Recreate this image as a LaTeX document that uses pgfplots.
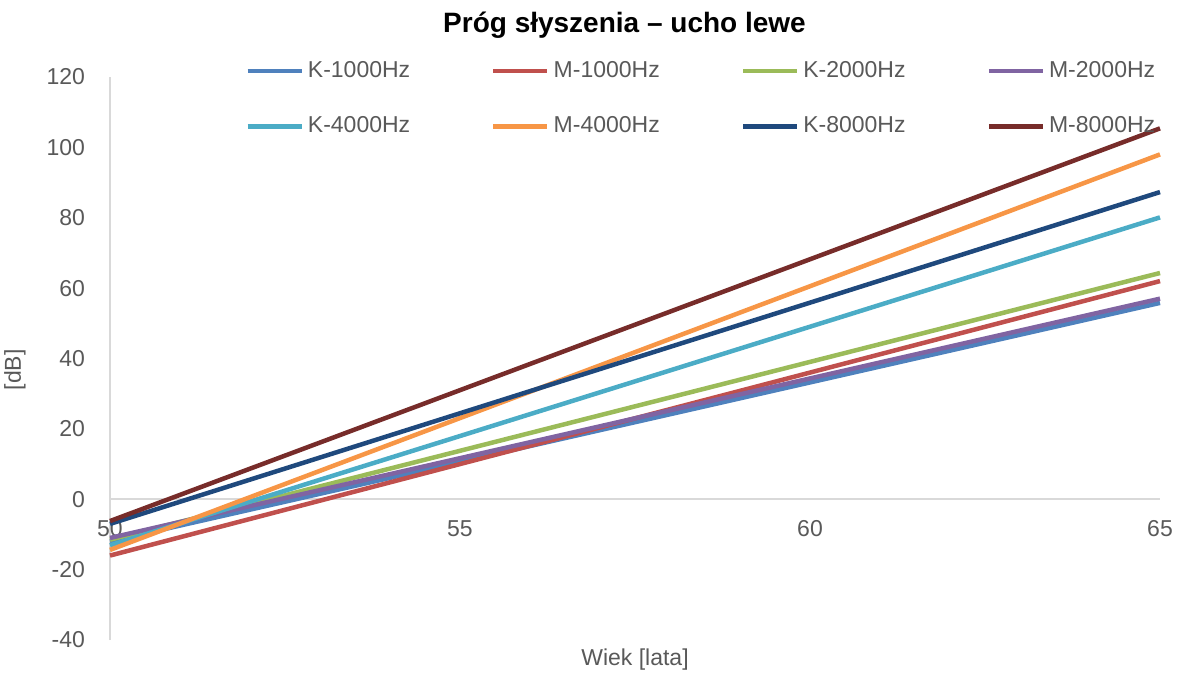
\documentclass[border=0pt]{standalone}
\usepackage{pgfplots}
\pgfplotsset{compat=1.18}
\usepackage{fontspec}
\setmainfont{Liberation Sans}
\definecolor{cA}{HTML}{4F81BD}
\definecolor{cB}{HTML}{C0504D}
\definecolor{cC}{HTML}{9BBB59}
\definecolor{cD}{HTML}{8064A2}
\definecolor{cE}{HTML}{4BACC6}
\definecolor{cF}{HTML}{F79646}
\definecolor{cG}{HTML}{1F497D}
\definecolor{cH}{HTML}{772C2A}
\definecolor{txt}{HTML}{595959}
\definecolor{axl}{HTML}{D9D9D9}
\begin{document}
\begin{tikzpicture}
\begin{axis}[
  scale only axis,
  width=525pt, height=281.5pt,
  xmin=50, xmax=65, ymin=-40, ymax=120,
  xtick={50,55,60,65}, ytick={-40,-20,0,20,40,60,80,100,120},
  axis x line=middle, axis y line=left,
  hide obscured x ticks=false,
  axis line style={axl, line width=1pt, -},
  major tick length=0pt,
  /pgf/number format/assume math mode=true,
  ticklabel style={font=\fontsize{11.5}{13}\selectfont, text=txt},
  xticklabel style={yshift=-7pt},
  yticklabel style={xshift=-9pt},
  every axis x label/.style={at={(rel axis cs:0.5,0)}, anchor=center, yshift=-10pt},
  every axis y label/.style={at={(rel axis cs:-0.0905,0.48)}, anchor=center, rotate=90},
  xlabel={Wiek [lata]}, ylabel={[dB]},
  label style={font=\fontsize{11.5}{13}\selectfont, text=txt},
  title={Próg słyszenia – ucho lewe},
  every axis title/.style={at={(rel axis cs:0.49,1)}, anchor=center, yshift=26pt, font=\fontsize{14}{16}\bfseries\selectfont},
  clip=false,
  legend columns=4,
  legend style={at={(rel axis cs:0.1286,1.035)}, anchor=north west, draw=none, fill=none,
     font=\fontsize{11.5}{13}\selectfont, text=txt,
     /tikz/every even column/.append style={column sep=38.5pt},
     row sep=14pt, inner sep=0pt},
  legend image code/.code={\draw[#1] (0pt,0pt) -- (27pt,0pt);},
  legend cell align=left,
  every axis plot/.append style={line width=2.25pt},
]
\addplot[cA] coordinates {(50,-12) (65,55.8)};
\addlegendentry{K-1000Hz}
\addplot[cB] coordinates {(50,-16) (65,62.0)};
\addlegendentry{M-1000Hz}
\addplot[cC] coordinates {(50,-11.5) (65,64.3)};
\addlegendentry{K-2000Hz}
\addplot[cD] coordinates {(50,-11) (65,57.0)};
\addlegendentry{M-2000Hz}
\addplot[cE] coordinates {(50,-13.1) (65,80.1)};
\addlegendentry{K-4000Hz}
\addplot[cF] coordinates {(50,-14.4) (65,98.0)};
\addlegendentry{M-4000Hz}
\addplot[cG] coordinates {(50,-7) (65,87.3)};
\addlegendentry{K-8000Hz}
\addplot[cH] coordinates {(50,-6.2) (65,105.4)};
\addlegendentry{M-8000Hz}
\end{axis}
\pgfresetboundingbox
\path ([xshift=-55pt,yshift=-17.5pt]current axis.south west) rectangle ([xshift=14pt,yshift=38.5pt]current axis.north east);
\end{tikzpicture}
\end{document}
